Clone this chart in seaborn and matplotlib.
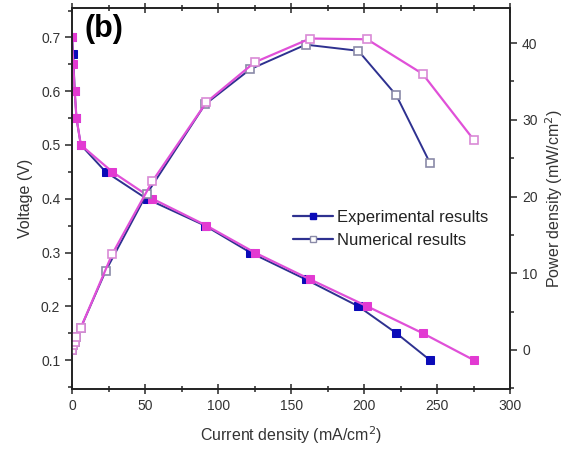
import numpy as np
import pandas as pd
import matplotlib
matplotlib.use("Agg")
import matplotlib.pyplot as plt
import seaborn as sns
from matplotlib.lines import Line2D
from matplotlib.ticker import MultipleLocator

# data
current_exp = [0, 0.8, 1.8, 3, 6, 23, 51, 91, 122, 160, 196, 222, 245]
voltage_exp = [0.7, 0.67, 0.6, 0.55, 0.5, 0.45, 0.4, 0.35, 0.3, 0.25, 0.2, 0.15, 0.1]
power_exp = [0.0, 0.6, 1.1, 1.7, 2.9, 10.3, 20.3, 32.0, 36.6, 39.8, 39.0, 33.2, 24.4]

current_num = [0, 0.8, 1.8, 3, 6, 27.5, 55, 92, 125, 163, 202, 240, 275]
voltage_num = [0.7, 0.65, 0.6, 0.55, 0.5, 0.45, 0.4, 0.35, 0.3, 0.25, 0.2, 0.15, 0.1]
power_num = [0.0, 0.6, 1.1, 1.7, 2.9, 12.5, 22.0, 32.3, 37.5, 40.6, 40.5, 36.0, 27.4]

df_exp = pd.DataFrame({"I": current_exp, "V": voltage_exp, "P": power_exp})
df_num = pd.DataFrame({"I": current_num, "V": voltage_num, "P": power_num})

sns.set_style("ticks")
plt.rcParams["font.family"] = ["Liberation Sans", "DejaVu Sans"]

navy = "#2e3190"
blue_mk = "#0b0bb8"
pink = "#e050d8"
pink_mk = "#e23ad2"

fig = plt.figure(figsize=(5.72, 4.61), dpi=100)
ax = fig.add_axes([0.126, 0.156, 0.766, 0.827])
ax2 = ax.twinx()

# voltage curves (filled squares)
sns.lineplot(data=df_exp, x="I", y="V", sort=False, ax=ax, color=navy, lw=1.4,
             marker="s", markersize=6, markerfacecolor=blue_mk, markeredgecolor=blue_mk)
sns.lineplot(data=df_num, x="I", y="V", sort=False, ax=ax, color=pink, lw=1.6,
             marker="s", markersize=6, markerfacecolor=pink_mk, markeredgecolor=pink_mk)

# power curves (open squares)
sns.lineplot(data=df_exp, x="I", y="P", sort=False, ax=ax2, color=navy, lw=1.4,
             marker="s", markersize=6, markerfacecolor="white", markeredgecolor="#8a8aa8",
             markeredgewidth=1.2)
sns.lineplot(data=df_num, x="I", y="P", sort=False, ax=ax2, color=pink, lw=1.6,
             marker="s", markersize=6, markerfacecolor="white", markeredgecolor="#d98ad6",
             markeredgewidth=1.2)

ax.set_xlim(0, 300)
ax.set_ylim(0.046, 0.755)
ax2.set_ylim(-5.1, 44.6)

ax.xaxis.set_major_locator(MultipleLocator(50))
ax.xaxis.set_minor_locator(MultipleLocator(25))
ax.yaxis.set_major_locator(MultipleLocator(0.1))
ax.yaxis.set_minor_locator(MultipleLocator(0.05))
ax2.yaxis.set_major_locator(MultipleLocator(10))
ax2.yaxis.set_minor_locator(MultipleLocator(5))
ax.set_yticks([0.1, 0.2, 0.3, 0.4, 0.5, 0.6, 0.7])
ax2.set_yticks([0, 10, 20, 30, 40])

tick_col = "#333333"
ax.tick_params(axis="x", which="both", direction="inout", top=True, labelsize=10,
               labelcolor=tick_col, width=1.1)
ax.tick_params(axis="x", which="major", length=7)
ax.tick_params(axis="x", which="minor", length=4)
ax.tick_params(axis="y", which="major", direction="out", length=5, labelsize=10,
               labelcolor=tick_col, width=1.1)
ax.tick_params(axis="y", which="minor", direction="out", length=3, width=1.1)
ax2.tick_params(axis="y", which="major", direction="out", length=5, labelsize=10,
                labelcolor=tick_col, width=1.1)
ax2.tick_params(axis="y", which="minor", direction="out", length=3, width=1.1)

for a in (ax, ax2):
    for s in a.spines.values():
        s.set_visible(True)
        s.set_color("#222222")
        s.set_linewidth(1.2)

ax.set_xlabel("Current density (mA/cm$^2$)", fontsize=11.5, color="#333333", labelpad=8)
ax.set_ylabel("Voltage (V)", fontsize=11.5, color="#333333", labelpad=6)
ax2.set_ylabel("Power density (mW/cm$^2$)", fontsize=11.5, color="#333333", labelpad=4)

ax.text(0.028, 0.985, "(b)", transform=ax.transAxes, fontsize=22, fontweight="bold",
        va="top", ha="left", color="black")

handles = [
    Line2D([], [], color=navy, lw=1.6, marker="s", markersize=5,
           markerfacecolor=blue_mk, markeredgecolor=blue_mk),
    Line2D([], [], color=navy, lw=1.6, marker="s", markersize=5,
           markerfacecolor="white", markeredgecolor="#8a8aa8"),
]
ax.legend(handles, ["Experimental results", "Numerical results"], loc="upper left",
          bbox_to_anchor=(0.469, 0.51), frameon=False, fontsize=12,
          handlelength=2.4, handletextpad=0.25, labelspacing=0.5, labelcolor="#222222")

fig.savefig("out.png", dpi=100)
